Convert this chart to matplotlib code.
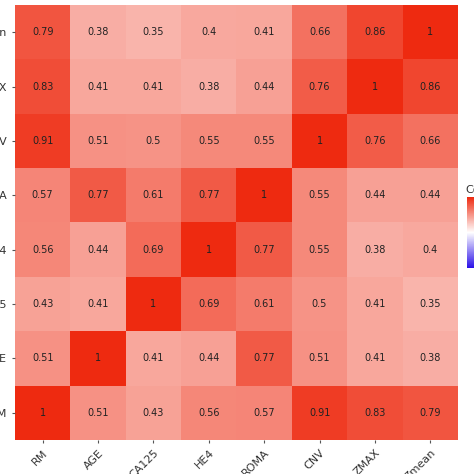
import matplotlib
matplotlib.use("Agg")
import matplotlib.pyplot as plt
import numpy as np
from matplotlib.colors import LinearSegmentedColormap

cols = ["RM", "AGE", "CA125", "HE4", "ROMA", "CNV", "ZMAX", "Zmean"]
rows = ["Zmean", "ZMAX", "CNV", "ROMA", "HE4", "CA125", "AGE", "RM"]
vals = [
    [0.79, 0.38, 0.35, 0.4, 0.41, 0.66, 0.86, 1],
    [0.83, 0.41, 0.41, 0.38, 0.44, 0.76, 1, 0.86],
    [0.91, 0.51, 0.5, 0.55, 0.55, 1, 0.76, 0.66],
    [0.57, 0.77, 0.61, 0.77, 1, 0.55, 0.44, 0.44],
    [0.56, 0.44, 0.69, 1, 0.77, 0.55, 0.38, 0.4],
    [0.43, 0.41, 1, 0.69, 0.61, 0.5, 0.41, 0.35],
    [0.51, 1, 0.41, 0.44, 0.77, 0.51, 0.41, 0.38],
    [1, 0.51, 0.43, 0.56, 0.57, 0.91, 0.83, 0.79],
]
M = np.array(vals)

cmap = LinearSegmentedColormap.from_list("bwr2", ["#2A10E8", "#FFFFFF", "#EE2A10"])
fig = plt.figure(figsize=(4.74, 4.74), dpi=100)
ax = fig.add_axes([15/474, 34/474, 443/474, 435/474])
im = ax.imshow(M, cmap=cmap, vmin=-1, vmax=1, aspect="auto")
for i in range(len(rows)):
    for j in range(len(cols)):
        ax.text(j, i, f"{M[i, j]:g}", ha="center", va="center", fontsize=7, color="#222222")
ax.set_xticks(range(len(cols)))
ax.set_xticklabels(cols, rotation=45, ha="right", rotation_mode="anchor", fontsize=8, color="#333333")
ax.set_yticks(range(len(rows)))
ax.set_yticklabels(rows, fontsize=8, color="#333333")
ax.tick_params(length=2, color="#555555")
for s in ax.spines.values():
    s.set_visible(False)
cax = fig.add_axes([467/474, 1 - 268/474, 12/474, 71/474])
cb = fig.colorbar(im, cax=cax)
cb.outline.set_visible(False)
cb.set_ticks([])
fig.text(465/474, 1 - 190/474, "Corr", fontsize=8, va="center", color="#333333")
fig.savefig("out.png", dpi=100)
